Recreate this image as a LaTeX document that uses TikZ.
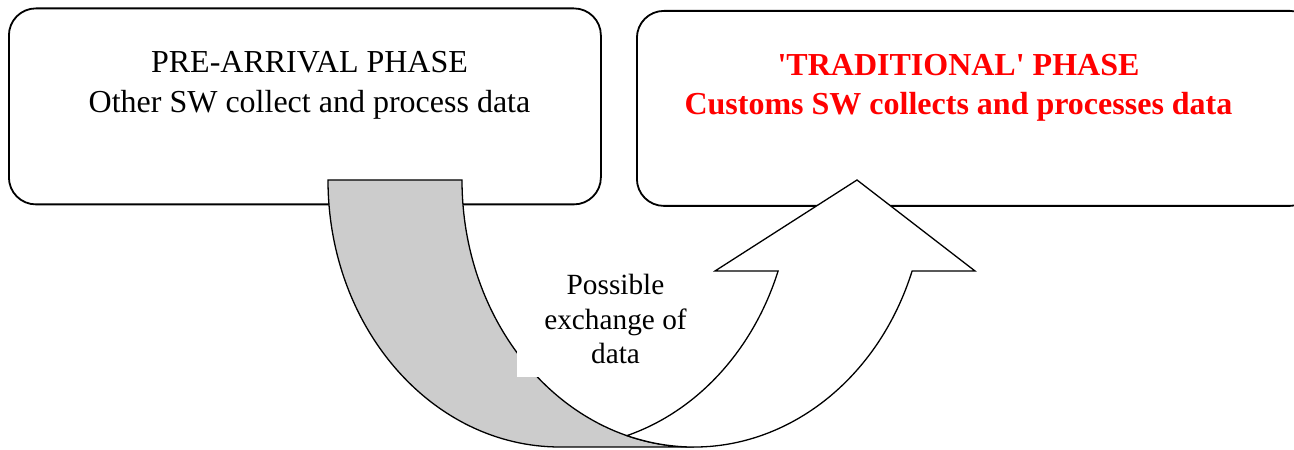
\documentclass[tikz,border=0pt]{standalone}
\usepackage{fontspec}
\setmainfont{Liberation Serif}
\definecolor{tailgrey}{RGB}{204,204,204}
\definecolor{phasered}{RGB}{255,0,0}
\begin{document}
\begin{tikzpicture}[x=1pt,y=1pt,
  phasebox/.style={draw=black, line width=1.8pt, rounded corners=27pt, inner sep=0pt, anchor=north west},
  arrowpart/.style={draw=black, line width=1.3pt, line join=miter},
  phasetext/.style={anchor=north, align=center, inner sep=0pt, font=\fontsize{32}{40}\selectfont},
  labeltext/.style={fill=white, inner sep=0pt, align=center, minimum width=198pt, minimum height=116pt, font=\fontsize{29.3}{34.5}\selectfont}]
\useasboundingbox (0,0) rectangle (1294,450);
\clip (0,0) rectangle (1294,450);
% boxes
\node[phasebox, minimum width=592pt, minimum height=196pt] (pre) at (8,442.5) {};
\node[phasebox, minimum width=680pt, minimum height=195pt] (trad) at (636,440) {};
\node[phasetext] (pretext) at (309.5,398.5) {PRE-ARRIVAL PHASE\\Other SW collect and process data};
\node[phasetext, text=phasered, font=\fontsize{32}{39}\selectfont\bfseries] (tradtext) at (958.5,395.6) {\textquotesingle TRADITIONAL\textquotesingle{} PHASE\\Customs SW collects and processes data};
% grey tail of the curved arrow
\draw[arrowpart, fill=tailgrey] (328,270)
  arc[start angle=180, end angle=270, x radius=232pt, y radius=267pt]
  -- (694,3)
  arc[start angle=270, end angle=180, x radius=232pt, y radius=267pt]
  -- cycle;
% label
\node[labeltext] (exch) at (615.5,131) {Possible\\exchange of\\data};
% white front of the curved arrow
\draw[arrowpart, fill=white] (626.96,14.4)
  arc[start angle=253.2, end angle=340.07, x radius=232pt, y radius=267pt]
  -- (975,179) -- (857,270) -- (715,179) -- (778.1,179)
  arc[start angle=340.07, end angle=286.8, x radius=232pt, y radius=267pt]
  -- cycle;
\end{tikzpicture}
\end{document}
